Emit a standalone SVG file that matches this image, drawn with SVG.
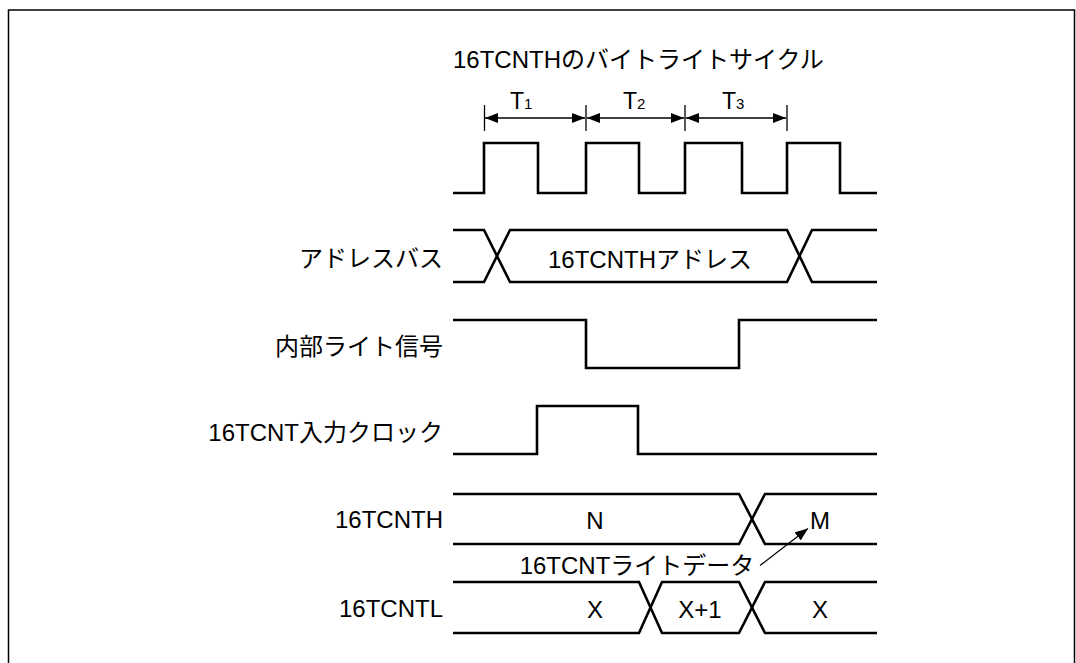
<svg xmlns="http://www.w3.org/2000/svg" width="1076" height="663" viewBox="0 0 1076 663">
<style>
  text { font-family: "Liberation Sans", "Noto Sans CJK JP", sans-serif; font-size: 24px; fill: #000; }
  .lbl { text-anchor: end; }
  .mid { text-anchor: middle; }
  .wave { fill: none; stroke: #000; stroke-width: 2.6; stroke-linejoin: miter; }
  .thin { fill: none; stroke: #000; stroke-width: 1.3; }
  text.tl { font-size: 23px; }
  tspan.sub { font-size: 15px; }
</style>
<defs>
  <marker id="ah" viewBox="0 0 13 10" refX="13" refY="5" markerWidth="13" markerHeight="10" markerUnits="userSpaceOnUse" orient="auto-start-reverse">
    <path d="M0,0 L13,5 L0,10 Z" fill="#000"/>
  </marker>
</defs>
<rect width="1076" height="663" fill="#fff"/>
<g id="frame">
  <path d="M8.5,663 V10 H1074.5 V663" fill="none" stroke="#000" stroke-width="1.5"/>
</g>
<g id="title">
  <text x="453" y="68">16TCNTHのバイトライトサイクル</text>
</g>
<g id="timing-labels">
  <text class="tl" x="510" y="109">T<tspan class="sub">1</tspan></text>
  <text class="tl" x="623" y="109">T<tspan class="sub">2</tspan></text>
  <text class="tl" x="722" y="109">T<tspan class="sub">3</tspan></text>
</g>
<g id="clock">
  <path class="wave" d="M453,193 H484 V143 H538 V193 H586 V143 H639 V193 H685 V143 H742 V193 H787 V143 H840 V193 H877"/>
</g>
<g id="address-bus">
  <text class="lbl" x="443" y="267">アドレスバス</text>
  <path class="wave" d="M453,230 H484 L510,282 H787 L812,230 H877"/>
  <path class="wave" d="M453,282 H484 L510,230 H787 L812,282 H877"/>
  <text class="mid" x="650" y="268">16TCNTHアドレス</text>
</g>
<g id="internal-write">
  <text class="lbl" x="443" y="355">内部ライト信号</text>
  <path class="wave" d="M453,320 H586 V368 H739 V320 H877"/>
</g>
<g id="input-clock">
  <text class="lbl" x="443" y="441">16TCNT入力クロック</text>
  <path class="wave" d="M453,454 H537 V406 H638 V454 H877"/>
</g>
<g id="tcnth">
  <text class="lbl" x="443" y="528">16TCNTH</text>
  <path class="wave" d="M453,494 H739 L765,544 H877"/>
  <path class="wave" d="M453,544 H739 L765,494 H877"/>
  <text class="mid" x="595" y="529">N</text>
  <text class="mid" x="820" y="529">M</text>
</g>
<g id="write-data">
  <text class="mid" x="637" y="574">16TCNTライトデータ</text>
</g>
<g id="tcntl">
  <text class="lbl" x="443" y="617">16TCNTL</text>
  <path class="wave" d="M453,582 H639 L662,633 H739 L765,582 H877"/>
  <path class="wave" d="M453,633 H639 L662,582 H739 L765,633 H877"/>
  <text class="mid" x="595" y="618">X</text>
  <text class="mid" x="700" y="618">X+1</text>
  <text class="mid" x="820" y="618">X</text>
</g>
<g id="connectors">
  <path class="thin" d="M484.5,105 V131 M586,105 V131 M685,105 V131 M787,105 V131"/>
  <path class="thin" d="M485,118 H585" marker-start="url(#ah)" marker-end="url(#ah)"/>
  <path class="thin" d="M587,118 H684" marker-start="url(#ah)" marker-end="url(#ah)"/>
  <path class="thin" d="M686,118 H786" marker-start="url(#ah)" marker-end="url(#ah)"/>
  <path class="thin" d="M760,565.5 L808,528.5" marker-end="url(#ah)"/>
</g>
</svg>
